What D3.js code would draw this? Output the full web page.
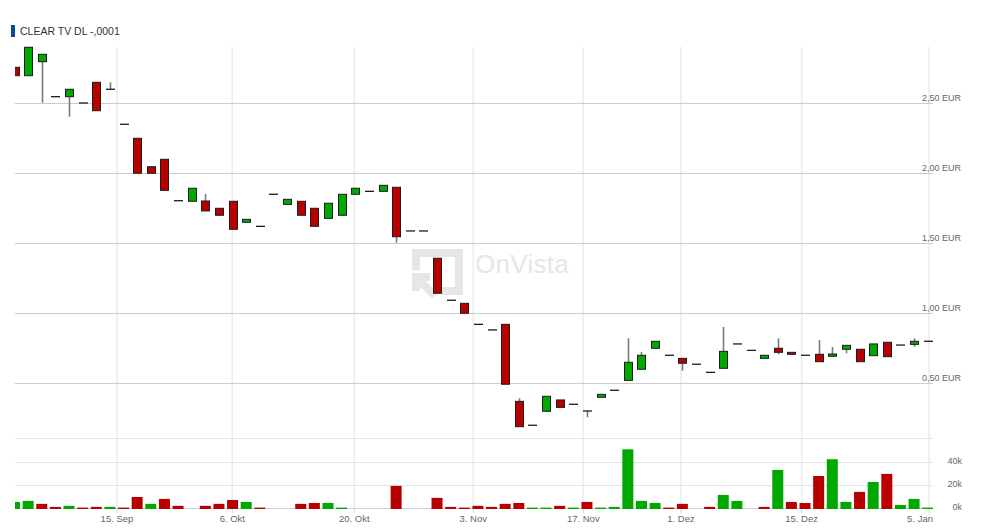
<!DOCTYPE html>
<html>
<head>
<meta charset="utf-8">
<script src="https://cdn.jsdelivr.net/npm/d3@7"></script>
<style>
  html, body { margin: 0; padding: 0; background: #fff; }
  svg { display: block; font-family: "Liberation Sans", Arial, sans-serif; }
</style>
</head>
<body>
<svg id="chart" width="983" height="530"></svg>
<script>
// ---------- DATA ----------
const title = "CLEAR TV DL -,0001";

const opens = [2.755,2.695,2.795,2.545,2.545,2.50,2.648,2.598,2.348,2.248,2.045,2.098,1.802,1.798,1.80,1.748,1.798,1.648,1.619,1.848,1.776,1.798,1.748,1.676,1.698,1.848,1.869,1.869,1.898,1.586,1.586,1.391,1.091,1.069,0.919,0.879,0.919,0.369,0.198,0.298,0.379,0.348,0.30,0.398,0.448,0.519,0.598,0.748,0.698,0.676,0.634,0.576,0.605,0.779,0.733,0.676,0.748,0.719,0.698,0.705,0.691,0.741,0.741,0.695,0.791,0.771,0.776,0.798];
const highs = [2.755,2.898,2.848,2.545,2.598,2.50,2.648,2.648,2.348,2.248,2.045,2.098,1.802,1.891,1.85,1.748,1.798,1.669,1.619,1.848,1.812,1.798,1.748,1.784,1.848,1.891,1.869,1.912,1.898,1.586,1.586,1.391,1.091,1.069,0.919,0.879,0.919,0.391,0.198,0.405,0.379,0.348,0.30,0.419,0.448,0.819,0.721,0.798,0.698,0.676,0.634,0.576,0.90,0.779,0.733,0.698,0.819,0.719,0.698,0.807,0.757,0.769,0.741,0.779,0.791,0.771,0.819,0.798];
const lows = [2.695,2.695,2.502,2.545,2.402,2.50,2.445,2.598,2.348,1.998,1.998,1.876,1.802,1.798,1.729,1.698,1.598,1.648,1.619,1.848,1.776,1.698,1.619,1.676,1.698,1.848,1.869,1.869,1.502,1.586,1.586,1.141,1.091,0.998,0.919,0.879,0.491,0.188,0.198,0.298,0.326,0.348,0.255,0.398,0.448,0.519,0.598,0.748,0.698,0.588,0.634,0.576,0.605,0.779,0.733,0.676,0.705,0.705,0.698,0.652,0.691,0.712,0.652,0.695,0.688,0.771,0.759,0.798];
const closes = [2.695,2.898,2.848,2.545,2.598,2.50,2.445,2.598,2.348,1.998,1.998,1.876,1.802,1.891,1.729,1.698,1.598,1.669,1.619,1.848,1.812,1.698,1.619,1.784,1.848,1.891,1.869,1.912,1.545,1.586,1.586,1.141,1.091,0.998,0.919,0.879,0.491,0.188,0.198,0.405,0.326,0.348,0.30,0.419,0.448,0.648,0.698,0.798,0.698,0.641,0.634,0.576,0.726,0.779,0.733,0.698,0.719,0.705,0.698,0.652,0.707,0.769,0.652,0.779,0.688,0.771,0.798,0.798];

// volume in thousands, and whether the bar is drawn as "up" (green)
const volumes = [5.7,6.6,4.0,1.4,2.3,0.5,1.4,1.4,0.5,10.0,4.0,8.3,2.3,0,2.3,4.0,7.4,5.7,0.5,0,0,4.0,4.8,4.8,0.5,0,0,0,19.6,0,0,9.2,1.4,0.5,2.3,1.4,4.0,4.8,0.5,0.5,2.3,0.5,5.7,0.5,1.4,51.3,6.6,4.8,0.5,4.0,0,1.4,11.8,6.6,0,1.4,33.4,5.7,4.8,28.2,42.7,5.7,14.4,23.0,30.0,3.1,8.3,0.5];
const volumeUp = [1,1,0,0,1,0,0,1,0,0,1,0,0,0,0,0,0,1,0,0,0,0,0,1,1,0,0,0,0,0,0,0,0,0,0,0,0,0,1,1,0,1,0,1,1,1,1,1,0,0,0,0,1,1,0,0,1,0,0,0,1,1,0,1,0,1,1,1];

// date ticks (position expressed in candle index units)
const tickLabels = ["15. Sep","6. Okt","20. Okt","3. Nov","17. Nov","1. Dez","15. Dez","5. Jan"];
const tickPositions = [7.52, 15.98, 24.93, 33.66, 41.73, 48.9, 57.75, 67.1];

const priceTicks = [0.5, 1.0, 1.5, 2.0, 2.5];
const volumeTicks = [0, 20, 40];

// ---------- LAYOUT ----------
const W = 983, H = 530;
const plotL = 15, plotR = 933;
const priceTop = 47, priceBot = 438;
const volTop = 438, volBot = 508.5;
const RED = "#b80000", GREEN = "#00a800";

const svg = d3.select("#chart");
svg.append("rect").attr("width", W).attr("height", H).attr("fill", "#fff");

const n = closes.length;
const x = d3.scaleLinear().domain([0, n - 1]).range([14.5, 927.7]);
const y = d3.scaleLinear().domain([0, 2.9]).range([453, priceTop]);
const yv = d3.scaleLinear().domain([0, 61.1]).range([volBot, volTop]);

const defs = svg.append("defs");
defs.append("clipPath").attr("id", "clipPrice").append("rect")
  .attr("x", plotL).attr("y", priceTop - 2).attr("width", plotR - plotL).attr("height", priceBot - priceTop + 2);
defs.append("clipPath").attr("id", "clipVol").append("rect")
  .attr("x", plotL).attr("y", volTop).attr("width", plotR - plotL).attr("height", volBot - volTop + 1);

// ---------- TITLE ----------
svg.append("rect").attr("x", 11).attr("y", 25).attr("width", 4).attr("height", 12).attr("fill", "#0d4a8f");
svg.append("text").attr("x", 20).attr("y", 34.6).attr("font-size", 10.5).attr("fill", "#333")
  .text(title);

// ---------- GRID ----------
const grid = svg.append("g");
grid.selectAll("line.v").data(tickPositions).join("line")
  .attr("x1", d => x(d)).attr("x2", d => x(d))
  .attr("y1", priceTop).attr("y2", volBot)
  .attr("stroke", "#ededed").attr("stroke-width", 1.6);
grid.selectAll("line.t").data(tickPositions).join("line")
  .attr("x1", d => x(d)).attr("x2", d => x(d))
  .attr("y1", volBot).attr("y2", volBot + 4.5)
  .attr("stroke", "#c6d4e2").attr("stroke-width", 1);

grid.selectAll("line.p").data(priceTicks).join("line")
  .attr("x1", plotL).attr("x2", plotR)
  .attr("y1", d => Math.round(y(d)) + 0.5).attr("y2", d => Math.round(y(d)) + 0.5)
  .attr("stroke", "#cccccc").attr("stroke-width", 1);

grid.append("line").attr("x1", plotL).attr("x2", plotR)
  .attr("y1", volTop + 0.5).attr("y2", volTop + 0.5)
  .attr("stroke", "#e4e4e4").attr("stroke-width", 1);

grid.selectAll("line.vg").data(volumeTicks.filter(d => d > 0)).join("line")
  .attr("x1", plotL).attr("x2", plotR)
  .attr("y1", d => Math.round(yv(d)) + 0.5).attr("y2", d => Math.round(yv(d)) + 0.5)
  .attr("stroke", "#e4e4e4").attr("stroke-width", 1);

// volume baseline (drawn under the bars)
grid.append("line").attr("x1", plotL).attr("x2", plotR)
  .attr("y1", volBot).attr("y2", volBot)
  .attr("stroke", "#c6d4e2").attr("stroke-width", 1);

// ---------- WATERMARK ----------
const wm = svg.append("g").attr("fill", "none").attr("stroke", "#e6e6e6").attr("stroke-width", 8);
wm.append("path").attr("d", "M416,270 V253 H459 V291 H441");
wm.append("path").attr("d", "M416,291 V277 H430");
wm.append("path").attr("d", "M418,279 L435,296");
svg.append("text").attr("x", 475).attr("y", 272.5).attr("font-size", 26)
  .attr("fill", "#e6e6e6").attr("letter-spacing", 0.3).text("OnVista");

// ---------- CANDLES ----------
const candles = d3.range(n).map(i => ({
  i, o: opens[i], h: highs[i], l: lows[i], c: closes[i]
}));
const cg = svg.append("g").attr("clip-path", "url(#clipPrice)");

cg.selectAll("line.wick").data(candles.filter(d => d.h > Math.max(d.o, d.c) + 1e-9 || d.l < Math.min(d.o, d.c) - 1e-9)).join("line")
  .attr("x1", d => Math.round(x(d.i)) + 0.5).attr("x2", d => Math.round(x(d.i)) + 0.5)
  .attr("y1", d => y(d.h)).attr("y2", d => y(d.l))
  .attr("stroke", "#7a7a7a").attr("stroke-width", 1.6);

const bodyW = 8;
cg.selectAll("rect.body").data(candles.filter(d => Math.abs(d.o - d.c) > 1e-9)).join("rect")
  .attr("x", d => Math.round(x(d.i)) - bodyW / 2 + 0.5)
  .attr("y", d => y(Math.max(d.o, d.c)))
  .attr("width", bodyW)
  .attr("height", d => Math.max(1, y(Math.min(d.o, d.c)) - y(Math.max(d.o, d.c))))
  .attr("fill", d => d.c > d.o ? GREEN : RED)
  .attr("stroke", "#1c1c1c").attr("stroke-width", 1);

cg.selectAll("line.flat").data(candles.filter(d => Math.abs(d.o - d.c) <= 1e-9)).join("line")
  .attr("x1", d => Math.round(x(d.i)) - bodyW / 2).attr("x2", d => Math.round(x(d.i)) + bodyW / 2 + 1)
  .attr("y1", d => y(d.c)).attr("y2", d => y(d.c))
  .attr("stroke", "#1c1c1c").attr("stroke-width", 1.3);

// ---------- VOLUME ----------
const vg = svg.append("g").attr("clip-path", "url(#clipVol)");
const volW = 11;
const volFloor = volBot + 0.5;
vg.selectAll("rect.vol").data(d3.range(n).filter(i => volumes[i] > 0)).join("rect")
  .attr("x", i => x(i) - volW / 2)
  .attr("y", i => Math.min(yv(volumes[i]), volFloor - 1.4))
  .attr("width", volW)
  .attr("height", i => volFloor - Math.min(yv(volumes[i]), volFloor - 1.4))
  .attr("fill", i => volumeUp[i] ? GREEN : RED);

// ---------- AXIS LABELS ----------
const fmtPrice = d => d3.format(".2f")(d).replace(".", ",") + " EUR";
svg.selectAll("text.pl").data(priceTicks).join("text")
  .attr("x", 922).attr("y", d => y(d) - 2.3)
  .attr("font-size", 9).attr("fill", "#666")
  .text(fmtPrice);

svg.selectAll("text.vl").data(volumeTicks).join("text")
  .attr("x", 962).attr("y", d => yv(d) + 1.3)
  .attr("text-anchor", "end")
  .attr("font-size", 9).attr("fill", "#666")
  .text(d => d + "k");

const xl = svg.selectAll("text.xl").data(tickPositions).join("text")
  .attr("x", d => x(d)).attr("y", 522)
  .attr("text-anchor", "middle")
  .attr("font-size", 9.5).attr("fill", "#666")
  .text((d, i) => tickLabels[i]);
xl.each(function() {
  const b = this.getBBox();
  if (b.x + b.width > plotR) {
    d3.select(this).attr("x", +d3.select(this).attr("x") - (b.x + b.width - plotR));
  }
});
</script>
</body>
</html>
